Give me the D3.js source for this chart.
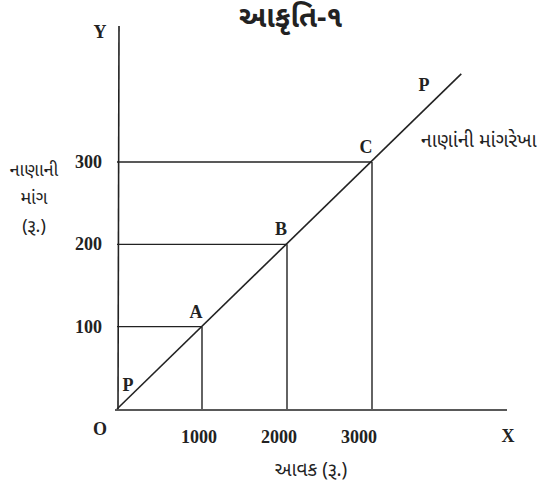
<!DOCTYPE html>
<html>
<head>
<meta charset="utf-8">
<script src="https://cdn.jsdelivr.net/npm/d3@7"></script>
<style>
  body { margin: 0; background: #fff; }
  .num { font-family: "Liberation Serif", "Times New Roman", serif; font-weight: bold; font-size: 18px; fill: #222; }
  .guj { font-family: "Noto Sans Gujarati", "Noto Sans", sans-serif; fill: #222; }
</style>
</head>
<body>
<div id="chart"></div>
<script>
// Demand points (income, money demand)
const points = [
  {label: "A", income: 1000, demand: 100},
  {label: "B", income: 2000, demand: 200},
  {label: "C", income: 3000, demand: 300},
]
const xTicks = [1000, 2000, 3000]
const yTicks = [100, 200, 300]
// PP line runs from origin to this end point
const lineEnd = {income: 4050, demand: 407}

const width = 539, height = 487

const svg = d3.select("#chart")
  .append("svg")
    .attr("width", width)
    .attr("height", height)

// Scales
const x = d3.scaleLinear()
  .domain([0, 1000])
  .range([117, 202])

const y = d3.scaleLinear()
  .domain([0, 300])
  .range([409, 162])

const ink = "#222"

// Axes lines (no ticks)
svg.append("line")
  .attr("x1", x(0) + 1).attr("x2", x(0) + 2)
  .attr("y1", y(0)).attr("y2", 26)
  .attr("stroke", ink).attr("stroke-width", 1.6)

svg.append("line")
  .attr("x1", x(0) - 2).attr("x2", 507)
  .attr("y1", y(0) + 1).attr("y2", y(0) + 1)
  .attr("stroke", ink).attr("stroke-width", 1.6)

// Demand line PP
svg.append("line")
  .attr("x1", x(0)).attr("y1", y(0))
  .attr("x2", x(lineEnd.income)).attr("y2", y(lineEnd.demand))
  .attr("stroke", ink).attr("stroke-width", 1.6)

// Guide lines for A, B, C
const guides = svg.selectAll("g.guide")
  .data(points)
  .enter()
  .append("g")
  .classed("guide", true)

guides.append("line")
  .attr("x1", x(0)).attr("x2", d => x(d.income))
  .attr("y1", d => y(d.demand)).attr("y2", d => y(d.demand))
  .attr("stroke", ink).attr("stroke-width", 1.4)

guides.append("line")
  .attr("x1", d => x(d.income)).attr("x2", d => x(d.income))
  .attr("y1", d => y(d.demand)).attr("y2", y(0))
  .attr("stroke", ink).attr("stroke-width", 1.4)

guides.append("text")
  .classed("num", true)
  .attr("x", d => x(d.income) - 6)
  .attr("y", d => y(d.demand) - 9)
  .attr("text-anchor", "middle")
  .text(d => d.label)

// Tick labels
svg.selectAll("text.xtick")
  .data(xTicks)
  .enter()
  .append("text")
  .attr("class", "num xtick")
  .attr("x", (d, i) => x(d) - 3 - 5 * i)
  .attr("y", 443)
  .attr("text-anchor", "middle")
  .text(d => d)

svg.selectAll("text.ytick")
  .data(yTicks)
  .enter()
  .append("text")
  .attr("class", "num ytick")
  .attr("x", 102)
  .attr("y", d => y(d) + 6)
  .attr("text-anchor", "end")
  .text(d => d)

// Axis letters
const letters = [
  {t: "Y", x: 100, y: 38},
  {t: "O", x: 100, y: 435},
  {t: "X", x: 508, y: 442},
  {t: "P", x: 424, y: 91},
  {t: "P", x: 128, y: 391},
]
svg.selectAll("text.letter")
  .data(letters)
  .enter()
  .append("text")
  .attr("class", "num letter")
  .attr("x", d => d.x)
  .attr("y", d => d.y)
  .attr("text-anchor", "middle")
  .text(d => d.t)

// Gujarati labels
svg.append("text")
  .attr("class", "guj")
  .attr("x", 291).attr("y", 27)
  .attr("text-anchor", "middle")
  .attr("font-size", 29)
  .attr("font-weight", "bold")
  .text("આકૃતિ-૧")

const yLabel = ["નાણાની", "માંગ", "(રૂ.)"]
svg.selectAll("text.ylab")
  .data(yLabel)
  .enter()
  .append("text")
  .attr("class", "guj ylab")
  .attr("x", 34)
  .attr("y", (d, i) => 176 + i * 28)
  .attr("text-anchor", "middle")
  .attr("font-size", 18)
  .text(d => d)

svg.append("text")
  .attr("class", "guj")
  .attr("x", 421).attr("y", 147)
  .attr("font-size", 19.5)
  .text("નાણાંની માંગરેખા")

svg.append("text")
  .attr("class", "guj")
  .attr("x", 311).attr("y", 476)
  .attr("text-anchor", "middle")
  .attr("font-size", 19)
  .text("આવક (રૂ.)")
</script>
</body>
</html>
